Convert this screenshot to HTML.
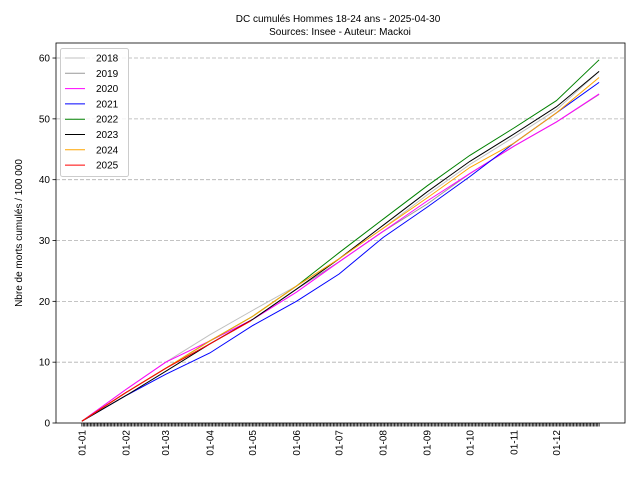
<!DOCTYPE html>
<html><head><meta charset="utf-8"><style>
body{margin:0;background:#fff}
svg{font-family:"Liberation Sans","DejaVu Sans",sans-serif}
</style></head><body>
<svg id="chart" width="640" height="480">
<rect width="640" height="480" fill="#fff"/>
<text x="338" y="22" font-size="10" text-anchor="middle">DC cumulés Hommes 18-24 ans  - 2025-04-30</text>
<text x="340" y="35" font-size="10" text-anchor="middle">Sources: Insee - Auteur: Mackoi</text>
<text transform="translate(22,233) rotate(-90)" font-size="10" text-anchor="middle">Nbre de morts cumulés / 100 000</text>
<g id="grid"></g><g id="series"></g><g id="axes"></g><g id="legend"></g>
</svg>
<script>
const years=["2018","2019","2020","2021","2022","2023","2024","2025"];
const colors=["#c0c0c0","#999999","#ff00ff","#0000ff","#008000","#000000","#ffa500","#ff0000"];
const days=[0,31,59,90,120,151,181,212,243,273,304,334,364];
const v2018=[0.3,5.5,10,14.5,18.5,22.5,27,32,37.5,42.5,47,51.5,57.8];
const v2019=[0.3,5,9,13,17,22,26.5,31.5,36,41,45.5,49.5,54];
const v2020=[0.3,5.5,10,13.5,17,21.5,26.5,31.5,36.5,41,45.5,49.5,54.1];
const v2021=[0.3,4.5,8,11.5,16,20,24.5,30.5,35.5,40.5,46,51,56];
const v2022=[0.3,5,9,13.5,17.5,22.5,28,33.5,39,44,48.5,53,59.7];
const v2023=[0.3,4.5,8.5,13,17,22,27,32.5,38,43,47.5,52,57.8];
const v2024=[0.3,5,9,13.5,17.5,22.5,27,32,37,42,46,51,56.8];
const v2025=[0.3,5,9,13,16.8];
const days2025=[0,31,59,90,119];
const yTicks=[0,10,20,30,40,50,60];
const monthLabels=["01-01","01-02","01-03","01-04","01-05","01-06","01-07","01-08","01-09","01-10","01-11","01-12"];
const monthDays=[0,31,59,90,120,151,181,212,243,273,304,334];
const allSeries=[v2018,v2019,v2020,v2021,v2022,v2023,v2024,v2025];
const L=56,R=625,T=43,B=423,xmin=-18.2,xmax=382.2,ymin=0,ymax=62.47;
const NS="http://www.w3.org/2000/svg";
const X=d=>L+(d-xmin)/(xmax-xmin)*(R-L);
const Y=v=>B-(v-ymin)/(ymax-ymin)*(B-T);
function mk(tag,attrs,parent){const e=document.createElementNS(NS,tag);for(const k in attrs)e.setAttribute(k,attrs[k]);parent.appendChild(e);return e;}
const grid=document.getElementById('grid'),ser=document.getElementById('series'),ax=document.getElementById('axes'),lg=document.getElementById('legend');
yTicks.forEach(t=>{
  if(t>0){const g=mk('line',{x1:L,x2:R,y1:Y(t),y2:Y(t),stroke:'#b0b0b0','stroke-dasharray':'4,2','stroke-width':0.8},grid);
  
  }
  const tk=mk('line',{x1:L-3.5,x2:L,y1:Y(t),y2:Y(t),stroke:'#000','stroke-width':0.8},ax);
  
  
  const tx=mk('text',{x:L-6,y:Y(t)+3.5,'font-size':10,'text-anchor':'end'},ax);
  tx.textContent=t;
  
  
});
allSeries.forEach((vals,i)=>{
  const ds=i===7?days2025:days;
  const pts=vals.map((v,j)=>X(ds[j]).toFixed(1)+','+Y(v).toFixed(1)).join(' ');
  const p=mk('polyline',{points:pts,fill:'none',stroke:colors[i],'stroke-width':1},ser);
  
  
});
for(let d=0;d<365;d++){
  const t=mk('line',{x1:X(d),x2:X(d),y1:B,y2:B+3.5,stroke:'#000','stroke-width':0.8},ax);
  
  
}
monthLabels.forEach((m,i)=>{
  const x=X(monthDays[i]);
  const t=mk('text',{transform:`translate(${x+3.5},${B+7}) rotate(-90)`,'font-size':10,'text-anchor':'end'},ax);
  t.textContent=m;
  
  
});
const fr=mk('rect',{x:L,y:T,width:R-L,height:B-T,fill:'none',stroke:'#000','stroke-width':0.8},ax);


const lb=mk('rect',{x:60.5,y:48.5,width:68,height:128,fill:'#fff','fill-opacity':0.8,stroke:'#ccc',rx:2},lg);


years.forEach((yr,i)=>{
  const y=58+i*15.3;
  const l=mk('line',{x1:65,x2:85,y1:y,y2:y,stroke:colors[i],'stroke-width':1},lg);
  
  
  const t=mk('text',{x:96,y:y+3.5,'font-size':10},lg);
  t.textContent=yr;
  
  
});
</script>
</body></html>
